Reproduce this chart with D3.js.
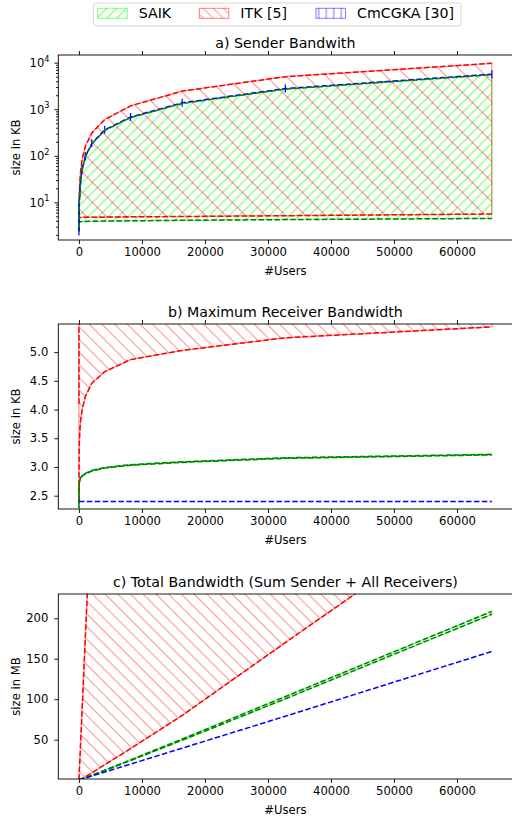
<!DOCTYPE html>
<html lang="en">
<head>
<script src="https://d3js.org/d3.v7.min.js"></script>
<style>
  body { margin: 0; background: #fff; }
  text { font-family: "DejaVu Sans", sans-serif; fill: #000; }
</style>
</head>
<body>
<script>
// number of users (powers of two)
var users = [2, 4, 8, 16, 32, 64, 128, 256, 512, 1024, 2048, 4096, 8192, 16384, 32768, 65536];
var xTicks = [0, 10000, 20000, 30000, 40000, 50000, 60000];

// a) sender bandwidth, KB
var saikSendMin = [3.4, 3.6, 3.7, 3.75, 3.78, 3.8, 3.82, 3.84, 3.86, 3.88, 3.9, 3.95, 4.0, 4.1, 4.25, 4.5];
var saikSendMax = [2.3, 3, 4, 5.5, 7.5, 10, 15, 27, 50, 95, 180, 350, 660, 1330, 2700, 5500];
var itkSendMin = [3.9, 4.2, 4.4, 4.5, 4.6, 4.65, 4.7, 4.72, 4.74, 4.76, 4.78, 4.8, 4.87, 4.95, 5.15, 5.6];
var itkSendMax = [4, 4.5, 5.5, 7, 10, 15, 25, 45, 85, 160, 310, 600, 1180, 2450, 5000, 9700];
var cmSend = [2.35, 3.1, 4.1, 5.7, 7.7, 10.3, 15.5, 28, 51.5, 98, 185, 360, 680, 1370, 2780, 5660];
var aTicks = [10, 100, 1000, 10000];

// b) maximum receiver bandwidth, KB
var saikRecvMin = [2.28, 2.45, 2.55, 2.62, 2.68, 2.72, 2.76, 2.8, 2.84, 2.88, 2.93, 2.98, 3.03, 3.08, 3.15, 3.21];
var saikRecvMax = [2.29, 2.46, 2.56, 2.63, 2.69, 2.73, 2.77, 2.81, 2.85, 2.89, 2.94, 2.99, 3.04, 3.09, 3.16, 3.22];
var itkRecvMin = [2.4, 2.6, 2.8, 3.0, 3.2, 3.4, 3.6, 3.8, 4.0, 4.23, 4.46, 4.66, 4.87, 5.03, 5.25, 5.44];
var itkRecvMax = [4.1, 12, 30, 60, 100, 140, 160, 170, 175, 178, 178, 178, 178, 178, 178, 178];
var cmRecv = [2.4, 2.4, 2.4, 2.4, 2.4, 2.4, 2.4, 2.4, 2.4, 2.4, 2.4, 2.4, 2.4, 2.4, 2.4, 2.4];
var bTicks = [2.5, 3.0, 3.5, 4.0, 4.5, 5.0];

// c) total bandwidth, MB
var saikTotMin = [0.0045, 0.0098, 0.02, 0.042, 0.086, 0.17, 0.35, 0.7, 1.42, 2.9, 5.9, 11.9, 24.2, 49.3, 100.5, 205];
var saikTotMax = [0.008, 0.013, 0.025, 0.05, 0.1, 0.19, 0.39, 0.74, 1.5, 3.0, 6.1, 12.3, 25, 50.8, 103.3, 208.5];
var itkTotMin = [0.01, 0.015, 0.026, 0.05, 0.1, 0.2, 0.45, 0.95, 2.0, 4.3, 9.0, 19, 39, 80, 170, 348];
var itkTotMax = [0.35, 0.7, 1.4, 2.8, 5.6, 11.1, 22.3, 44.5, 89, 178, 356, 713, 1425, 2850, 5700, 11400];
var cmTot = [0.005, 0.01, 0.02, 0.04, 0.08, 0.16, 0.31, 0.62, 1.24, 2.5, 5, 10, 19.8, 39.5, 79, 159];
var cTicks = [50, 100, 150, 200];

var legendNames = ["SAIK", "ITK [5]", "CmCGKA [30]"];

var W = 512, H = 819;
var left = 58.3, right = 512.5;
var svg = d3.select("body").append("svg").attr("width", W).attr("height", H);
var defs = svg.append("defs");

var x = d3.scaleLinear().domain([-3275, 68813]).range([left, right]);

// hatch patterns: spacing is the horizontal distance between lines
function hatch(id, color, spacing, angle, opacity) {
  var s = angle == 0 ? spacing : spacing / Math.SQRT2;
  var p = defs.append("pattern").attr("id", id)
    .attr("patternUnits", "userSpaceOnUse")
    .attr("width", s).attr("height", s)
    .attr("patternTransform", "rotate(" + angle + ")");
  p.append("line").attr("x1", s / 2).attr("y1", 0).attr("x2", s / 2).attr("y2", s)
    .attr("stroke", color).attr("stroke-width", 1.1).attr("stroke-opacity", opacity);
}
hatch("hSaik", "lime", 10, 45, 0.6);
hatch("hItkA", "red", 20, -45, 0.4);
hatch("hItk", "red", 12.7, -45, 0.4);
hatch("hItkL", "red", 10, -45, 0.4);
hatch("hCm", "blue", 7.5, 0, 0.5);

function zip(lo, hi) {
  return users.map(function (n, i) { return { n: n, lo: lo[i], hi: hi ? hi[i] : lo[i] }; });
}

function panel(cfg) {
  var top = cfg.top, bottom = cfg.bottom;
  var y = cfg.log ? d3.scaleLog() : d3.scaleLinear();
  y.domain(cfg.domain).range([bottom, top]);

  var clipId = "clip" + cfg.id;
  defs.append("clipPath").attr("id", clipId).append("rect")
    .attr("x", left).attr("y", top).attr("width", right - left).attr("height", bottom - top);

  var g = svg.append("g");
  var plot = g.append("g").attr("clip-path", "url(#" + clipId + ")");

  var area = d3.area().x(function (d) { return x(d.n); })
    .y0(function (d) { return y(d.lo); }).y1(function (d) { return y(d.hi); });
  var line = function (key) {
    return d3.line().x(function (d) { return x(d.n); }).y(function (d) { return y(d[key]); });
  };

  cfg.fills.forEach(function (f) {
    plot.append("path").datum(zip(f.lo, f.hi)).attr("d", area)
      .attr("fill", "url(#" + f.pattern + ")")
      .attr("stroke", f.color).attr("stroke-opacity", 0.45).attr("stroke-width", 1.2);
  });
  cfg.lines.forEach(function (l) {
    plot.append("path").datum(zip(l.v)).attr("d", line("lo"))
      .attr("fill", "none").attr("stroke", l.color).attr("stroke-width", 1.5)
      .attr("stroke-dasharray", "5.5,2.4").attr("stroke-dashoffset", l.offset || 0);
    if (l.marker) {
      plot.selectAll(null).data(zip(l.v)).enter().append("line")
        .attr("x1", function (d) { return x(d.n); }).attr("x2", function (d) { return x(d.n); })
        .attr("y1", function (d) { return y(d.lo) - 4; }).attr("y2", function (d) { return y(d.lo) + 4; })
        .attr("stroke", l.color).attr("stroke-width", 1.2);
    }
  });

  // x axis
  g.append("g").attr("transform", "translate(0," + bottom + ")")
    .call(d3.axisBottom(x).tickValues(xTicks).tickFormat(d3.format("d")).tickSize(4).tickPadding(3.5));
  if (cfg.topTicks) {
    g.append("g").attr("transform", "translate(0," + top + ")")
      .call(d3.axisTop(x).tickValues(xTicks).tickFormat("").tickSize(4));
  }

  // y axis
  if (cfg.log) {
    var minor = [];
    [1, 10, 100, 1000, 10000].forEach(function (b) {
      for (var k = 2; k < 10; k++) {
        var v = b * k;
        if (v > cfg.domain[0] && v < cfg.domain[1]) minor.push(v);
      }
    });
    g.append("g").attr("transform", "translate(" + left + ",0)")
      .call(d3.axisLeft(y).tickValues(minor).tickFormat("").tickSize(2.3));
    g.append("g").attr("transform", "translate(" + left + ",0)")
      .call(d3.axisLeft(y).tickValues(cfg.ticks).tickFormat("").tickSize(4));
    cfg.ticks.forEach(function (t) {
      var tx = g.append("text").attr("x", 49.5).attr("y", y(t) + 4.5)
        .attr("text-anchor", "end").style("font-size", "11.6px");
      tx.append("tspan").text("10");
      tx.append("tspan").attr("dy", -5.5).style("font-size", "8.2px").text(Math.round(Math.log10(t)));
    });
  } else {
    g.append("g").attr("transform", "translate(" + left + ",0)")
      .call(d3.axisLeft(y).tickValues(cfg.ticks).tickFormat(cfg.format).tickSize(4).tickPadding(6));
  }

  g.selectAll(".domain").remove();
  g.selectAll(".tick text").style("font-size", "11.6px").style("font-family", "DejaVu Sans").attr("fill", "#000");
  g.selectAll(".tick line").attr("stroke", "#000").attr("stroke-width", 0.9);

  // spines
  g.append("rect").attr("x", left).attr("y", top).attr("width", right - left).attr("height", bottom - top)
    .attr("fill", "none").attr("stroke", "#000").attr("stroke-width", 0.9);

  g.append("text").attr("x", (left + right) / 2).attr("y", top - 7)
    .attr("text-anchor", "middle").style("font-size", "14.2px").text(cfg.title);
  g.append("text").attr("x", (left + right) / 2).attr("y", bottom + 35)
    .attr("text-anchor", "middle").style("font-size", "11.6px").text("#Users");
  g.append("text").attr("transform", "translate(19.5," + (top + bottom) / 2 + ") rotate(-90)")
    .attr("text-anchor", "middle").style("font-size", "11.6px").text(cfg.ylabel);
}

panel({
  id: "a", top: 55, bottom: 240, log: true, domain: [Math.pow(10, 0.19), Math.pow(10, 4.165)],
  ticks: aTicks, topTicks: true, title: "a) Sender Bandwith", ylabel: "size in KB",
  fills: [
    { lo: saikSendMin, hi: saikSendMax, pattern: "hSaik", color: "lime" },
    { lo: itkSendMin, hi: itkSendMax, pattern: "hItkA", color: "red" }
  ],
  lines: [
    { v: itkSendMin, color: "red" }, { v: itkSendMax, color: "red" },
    { v: saikSendMin, color: "green" },
    { v: cmSend, color: "blue", marker: true },
    { v: saikSendMax, color: "green", offset: 4 }
  ]
});

panel({
  id: "b", top: 324, bottom: 509, log: false, domain: [2.268, 5.49],
  ticks: bTicks, format: d3.format(".1f"), topTicks: true,
  title: "b) Maximum Receiver Bandwidth", ylabel: "size in KB",
  fills: [
    { lo: saikRecvMin, hi: saikRecvMax, pattern: "hSaik", color: "lime" },
    { lo: itkRecvMin, hi: itkRecvMax, pattern: "hItk", color: "red" }
  ],
  lines: [
    { v: itkRecvMin, color: "red" }, { v: itkRecvMax, color: "red" },
    { v: saikRecvMin, color: "green" }, { v: saikRecvMax, color: "green", offset: 4 },
    { v: cmRecv, color: "blue" }
  ]
});

panel({
  id: "c", top: 594, bottom: 779, log: false, domain: [1.4, 230],
  ticks: cTicks, format: d3.format("d"), topTicks: false,
  title: "c) Total Bandwidth (Sum Sender + All Receivers)", ylabel: "size in MB",
  fills: [
    { lo: saikTotMin, hi: saikTotMax, pattern: "hSaik", color: "lime" },
    { lo: itkTotMin, hi: itkTotMax, pattern: "hItk", color: "red" }
  ],
  lines: [
    { v: itkTotMin, color: "red" }, { v: itkTotMax, color: "red" },
    { v: saikTotMin, color: "green" }, { v: saikTotMax, color: "green" },
    { v: cmTot, color: "blue" }
  ]
});

// legend
var lg = svg.append("g");
lg.append("rect").attr("x", 93.3).attr("y", 3).attr("width", 367.7).attr("height", 23).attr("rx", 3)
  .attr("fill", "#fff").attr("fill-opacity", 0.8).attr("stroke", "#d6d6d6");
var legendItems = [
  { x: 97.7, pattern: "hSaik", color: "lime" },
  { x: 199.3, pattern: "hItkL", color: "red" },
  { x: 316, pattern: "hCm", color: "blue" }
];
legendItems.forEach(function (it, i) {
  lg.append("rect").attr("x", it.x).attr("y", 8.3).attr("width", 29.5).attr("height", 10)
    .attr("fill", "url(#" + it.pattern + ")").attr("stroke", it.color).attr("stroke-opacity", 0.5);
  lg.append("text").attr("x", it.x + 41).attr("y", 18.4).style("font-size", "14.2px").text(legendNames[i]);
});
</script>
</body>
</html>
